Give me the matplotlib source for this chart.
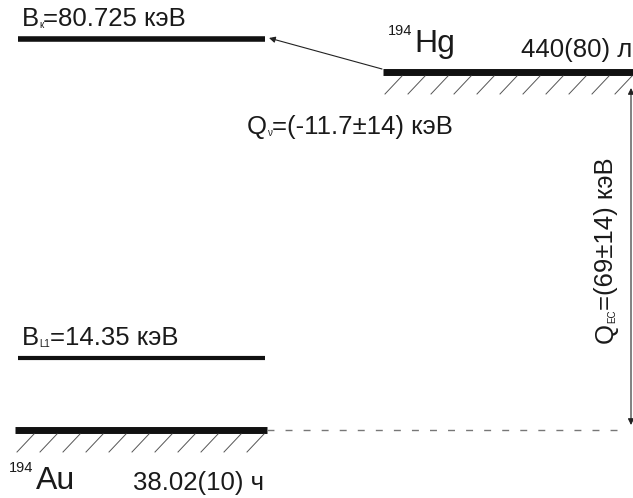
import numpy as np
import matplotlib.pyplot as plt

plt.rcParams['font.family'] = ['Liberation Sans', 'DejaVu Sans']

# Уровни схемы (в координатах рисунка)
level_names = ['Bk', 'Hg', 'BL1', 'Au']
level_x0 = [18, 383, 18, 15]
level_x1 = [265, 633, 265, 267]
level_y = [39, 72, 358, 430]
level_lw = [4, 5, 3, 5]
level_hatch = [False, True, False, True]

# Подписи: (основа, индекс, остаток)
bk_label = ('B', 'к', '=80.725 кэВ')
bl1_label = ('B', 'L1', '=14.35 кэВ')
qv_label = ('Q', 'ν', '=(-11.7±14) кэВ')
qec_label = ('Q', 'EC', '=(69±14) кэВ')
hg_halflife = '440(80) л'
au_halflife = '38.02(10) ч'

fig = plt.figure(figsize=(6.33, 4.98), dpi=100)
ax = fig.add_axes([0, 0, 1, 1])
ax.set_xlim(0, 633)
ax.set_ylim(498, 0)
ax.axis('off')
renderer = fig.canvas.get_renderer()

txt = dict(color='#1a1a1a')
FS = 18.5
SUB = 7


def label_with_sub(x, y, parts, vertical=False):
    main, sub, rest = parts
    if not vertical:
        t = ax.text(x, y, main, fontsize=FS, va='baseline', **txt)
        x += t.get_window_extent(renderer).width
        t = ax.text(x, y + 2, sub, fontsize=SUB, va='baseline', **txt)
        x += t.get_window_extent(renderer).width
        ax.text(x, y, rest, fontsize=FS, va='baseline', **txt)
    else:
        t = ax.text(x, y, main, fontsize=FS, rotation=90, va='baseline', ha='left',
                    rotation_mode='anchor', **txt)
        y -= t.get_window_extent(renderer).height
        t = ax.text(x + 2, y, sub, fontsize=SUB, rotation=90, va='baseline', ha='left',
                    rotation_mode='anchor', **txt)
        y -= t.get_window_extent(renderer).height
        ax.text(x, y, rest, fontsize=FS, rotation=90, va='baseline', ha='left',
                rotation_mode='anchor', **txt)


# Рисуем уровни и штриховку
for x0, x1, y, lw, h in zip(level_x0, level_x1, level_y, level_lw, level_hatch):
    ax.plot([x0, x1], [y, y], color='#111111', lw=lw, solid_capstyle='butt')
    if h:
        for xs in np.arange(x0 + 2, x1 - 12, 23):
            ax.plot([xs, xs + 17], [y + 22, y + 4], color='#555555', lw=0.7)

# Пунктир от уровня Au
ax.plot([267, 625], [430, 430], color='#777777', lw=1, ls=(0, (5, 8)))

# Стрелка Q_nu
ax.annotate('', xy=(269, 38), xytext=(382, 69),
            arrowprops=dict(arrowstyle='-|>', color='#222222', lw=0.8,
                            mutation_scale=9, shrinkA=0, shrinkB=0))
# Стрелка Q_EC
ax.annotate('', xy=(631, 425), xytext=(631, 88),
            arrowprops=dict(arrowstyle='<|-|>', color='#222222', lw=0.8,
                            mutation_scale=9, shrinkA=0, shrinkB=0))

label_with_sub(22, 26, bk_label)
label_with_sub(22, 345, bl1_label)
label_with_sub(247, 134, qv_label)
label_with_sub(613, 343, qec_label, vertical=True)
ax.text(521, 57, hg_halflife, fontsize=FS, va='baseline', **txt)
ax.text(133, 490, au_halflife, fontsize=FS, va='baseline', **txt)

# Ядра
ax.text(388, 35, '194', fontsize=10.5, va='baseline', **txt)
ax.text(414, 52, 'Hg', fontsize=23, va='baseline', **txt)
ax.text(9, 472, '194', fontsize=10.5, va='baseline', **txt)
ax.text(36, 489, 'Au', fontsize=23, va='baseline', **txt)

plt.savefig('out.png', dpi=100)
